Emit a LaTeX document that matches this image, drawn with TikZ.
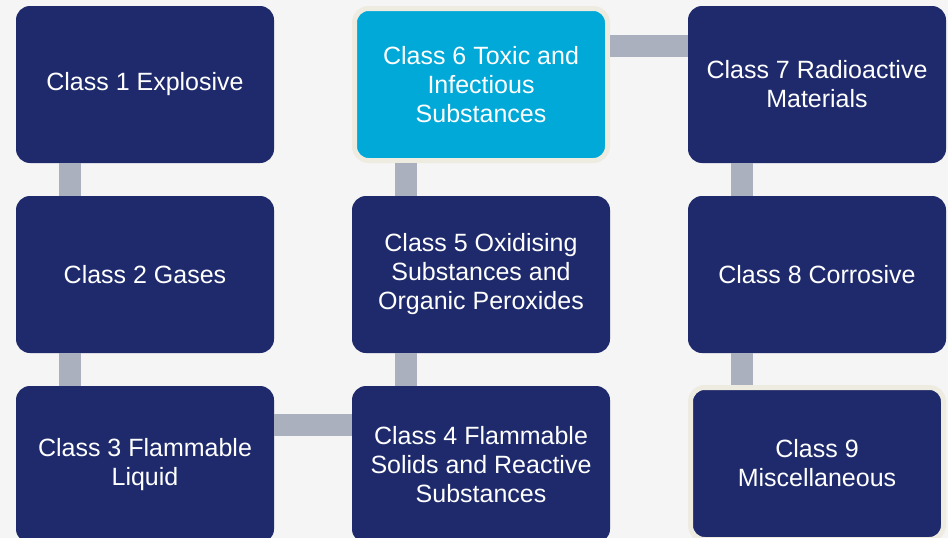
\documentclass[tikz,border=0pt]{standalone}
\usepackage{fontspec}
\setmainfont{Liberation Sans}
\usetikzlibrary{positioning,calc}
\definecolor{navy}{HTML}{1E2A6B}
\definecolor{cyanbox}{HTML}{00A9D8}
\definecolor{rimcol}{HTML}{EEEBE0}
\definecolor{linkcol}{HTML}{AAB0BE}
\definecolor{bgcol}{HTML}{F5F5F5}
\tikzset{hbox/.style={rounded corners=14pt, fill=navy, text=white, align=center, inner sep=0pt, outer sep=0pt, minimum width=258pt, minimum height=157pt, font=\fontsize{25}{29}\selectfont}}
\tikzset{hrim/.style={hbox, draw=rimcol, line width=5pt, outer sep=2.5pt, minimum width=253pt, minimum height=152pt}}
\tikzset{link/.style={draw=linkcol, line width=22pt}}

\begin{document}
\begin{tikzpicture}
	\fill[bgcol] (0,0) rectangle (948pt,-538pt);
	\useasboundingbox (0,0) rectangle (948pt,-538pt);
	\clip (0,0) rectangle (948pt,-538pt);
	\node[hbox, anchor=north west] (c1) at (16pt,-6pt) {Class 1 Explosive};
	\node[hbox, below=33pt of c1] (c2) {Class 2 Gases};
	\node[hbox, below=33pt of c2] (c3) {Class 3 Flammable\\Liquid};
	\node[hrim, fill=cyanbox, right=78pt of c1] (c6) {Class 6 Toxic and\\Infectious\\Substances};
	\node[hbox, below=33pt of c6] (c5) {Class 5 Oxidising\\Substances and\\Organic Peroxides};
	\node[hbox, below=33pt of c5] (c4) {Class 4 Flammable\\Solids and Reactive\\Substances};
	\node[hbox, right=78pt of c6] (c7) {Class 7 Radioactive\\Materials};
	\node[hbox, below=33pt of c7] (c8) {Class 8 Corrosive};
	\node[hrim, below=32pt of c8] (c9) {Class 9\\Miscellaneous};
	\draw[link] ($(c1.south west)+(54pt,0)$) -- ($(c2.north west)+(54pt,0)$);
	\draw[link] ($(c2.south west)+(54pt,0)$) -- ($(c3.north west)+(54pt,0)$);
	\draw[link] ($(c3.north east)+(0,-39pt)$) -- ($(c4.north west)+(0,-39pt)$);
	\draw[link] ($(c4.north west)+(54pt,0)$) -- ($(c5.south west)+(54pt,0)$);
	\draw[link] ($(c5.north west)+(54pt,0)$) -- ($(c6.south west)+(54pt,0)$);
	\draw[link] ($(c6.north east)+(0,-40pt)$) -- ($(c7.north west)+(0,-40pt)$);
	\draw[link] ($(c7.south west)+(54pt,0)$) -- ($(c8.north west)+(54pt,0)$);
	\draw[link] ($(c8.south west)+(54pt,0)$) -- ($(c9.north west)+(54pt,0)$);
\end{tikzpicture}
\end{document}
